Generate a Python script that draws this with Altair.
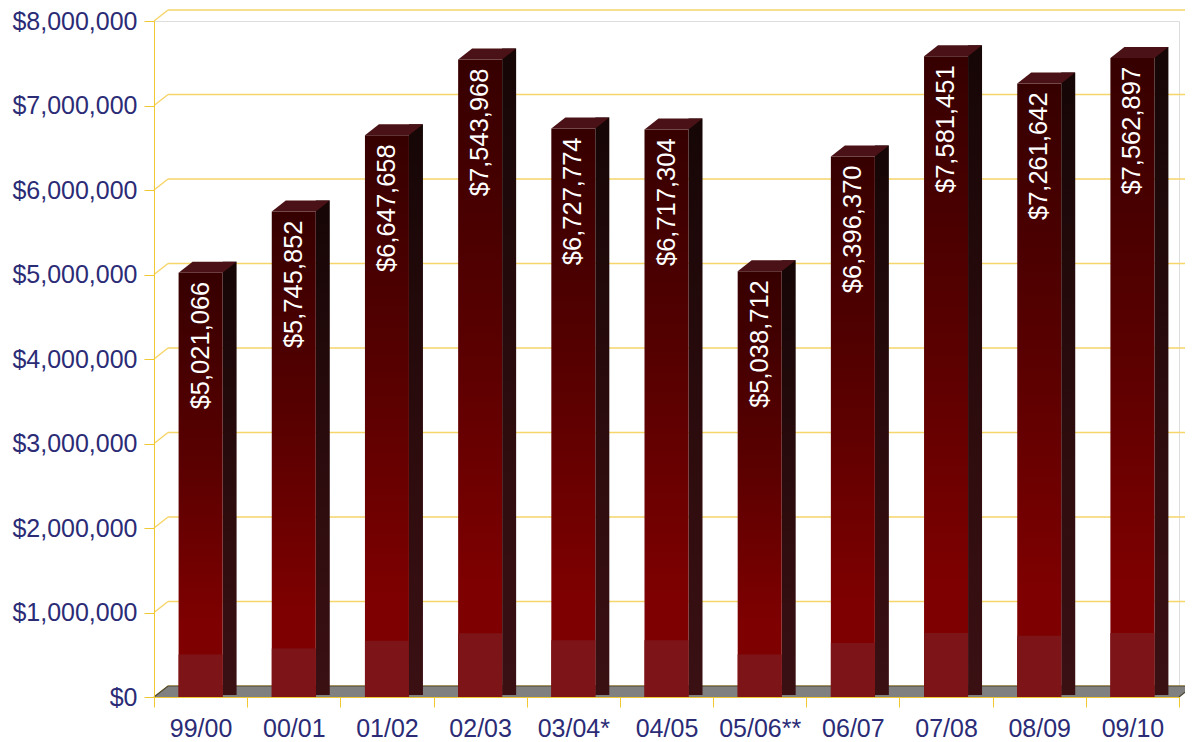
import altair as alt
import pandas as pd

# ---- data ----
categories = ["99/00", "00/01", "01/02", "02/03", "03/04*", "04/05",
              "05/06**", "06/07", "07/08", "08/09", "09/10"]
values = [5021066, 5745852, 6647658, 7543968, 6727774, 6717304,
          5038712, 6396370, 7581451, 7261642, 7562897]
tick_values = [0, 1000000, 2000000, 3000000, 4000000,
               5000000, 6000000, 7000000, 8000000]

df = pd.DataFrame({"season": categories, "amount": values})
grid_df = pd.DataFrame({"tick": tick_values})

# ---- layout constants (pixels) ----
W, H = 1025, 676
DX, DY = 14, 11
BAR_W = 44
HALF = BAR_W / 2

NAVY = "#2b2b76"
GOLD = "#f0c832"
GRID = "#f6d56a"
FONT = "Liberation Sans"

x_enc = alt.X(
    "season:N",
    sort=categories,
    scale=alt.Scale(paddingInner=0, paddingOuter=0),
    axis=alt.Axis(
        title=None, labelAngle=0, tickBand="extent", tickSize=10,
        labelPadding=9, labelFontSize=25, labelFont=FONT, labelColor=NAVY,
        domainColor=GOLD, tickColor=GOLD, zindex=1, grid=False,
    ),
)
y_scale = alt.Scale(domain=[0, 8000000], nice=False, zero=True)
y_enc = alt.Y(
    "amount:Q",
    scale=y_scale,
    axis=alt.Axis(
        title=None, values=tick_values, format="$,.0f", tickSize=10,
        labelPadding=7, labelFontSize=25, labelFont=FONT, labelColor=NAVY,
        domainColor=GOLD, tickColor=GOLD, grid=False, zindex=1,
    ),
)

# back-wall gridlines
grid_back = alt.Chart(grid_df).mark_rule(color=GRID, strokeWidth=1.5, yOffset=-DY).encode(
    y=alt.Y("tick:Q", scale=y_scale),
    x=alt.value(DX), x2=alt.value(W + DX),
)
grid_diag = alt.Chart(grid_df).mark_rule(color=GRID, strokeWidth=1.5, y2Offset=-DY).encode(
    y=alt.Y("tick:Q", scale=y_scale), y2="tick:Q",
    x=alt.value(0), x2=alt.value(DX),
)

# floor parallelogram
k = W / 2
fx, fy = DX / k, DY / k
floor_path = f"M -1 0 L 1 0 L {1 + fx:.5f} {-fy:.5f} L {-1 + fx:.5f} {-fy:.5f} Z"
floor_edge_path = f"M -1 0 L {-1 + fx:.5f} {-fy:.5f} L {1 + fx:.5f} {-fy:.5f} L 1 0"
floor = alt.Chart(grid_df.head(1)).mark_point(
    shape=floor_path, size=W * W, filled=True, fill="#808080", opacity=1, strokeWidth=0
).encode(x=alt.value(W / 2), y=alt.value(H))
floor_edge = alt.Chart(grid_df.head(1)).mark_point(
    shape=floor_edge_path, size=W * W, filled=False, stroke="#4e4630",
    strokeWidth=1.2, opacity=1
).encode(x=alt.value(W / 2), y=alt.value(H))

base = alt.Chart(df).encode(x=x_enc)

# side face
side = base.mark_bar(
    width=DX, xOffset=HALF + DX / 2, yOffset=-DY, y2Offset=-2,
    color=alt.Gradient(
        gradient="linear", x1=0, x2=0, y1=0, y2=1,
        stops=[alt.GradientStop(color="#160606", offset=0),
               alt.GradientStop(color="#2e0c0e", offset=0.6),
               alt.GradientStop(color="#3a1013", offset=1)],
    ),
).encode(y=y_enc, y2=alt.datum(0))

# front face
front = base.mark_bar(
    width=BAR_W,
    color=alt.Gradient(
        gradient="linear", x1=0, x2=0, y1=0, y2=1,
        stops=[alt.GradientStop(color="#360000", offset=0),
               alt.GradientStop(color="#5a0000", offset=0.45),
               alt.GradientStop(color="#7e0000", offset=0.82),
               alt.GradientStop(color="#800000", offset=1)],
    ),
).encode(y=y_enc, y2=alt.datum(0))

# lighter bottom band of the front face
front_low = base.transform_calculate(low="datum.amount * 0.1").mark_bar(
    width=BAR_W, color="#7c1418"
).encode(y=alt.Y("low:Q", scale=y_scale), y2=alt.datum(0))

# top face
tk = HALF
top_path = (f"M -1 0 L {(-HALF + DX) / tk:.5f} {-DY / tk:.5f} "
            f"L {(HALF + DX) / tk:.5f} {-DY / tk:.5f} L 1 0 Z")
top = base.mark_point(
    shape=top_path, size=BAR_W * BAR_W, filled=True, opacity=1,
    strokeWidth=0, color="#4a1216",
).encode(y=y_enc)

labels = base.mark_text(
    angle=270, align="right", baseline="middle", color="white",
    fontSize=25.5, font=FONT, yOffset=9,
).encode(y=y_enc, text=alt.Text("amount:Q", format="$,.0f"))

chart = alt.layer(
    grid_back, grid_diag, floor, floor_edge, side, front, front_low, top, labels
).properties(
    width=W, height=H,
    autosize=alt.AutoSizeParams(type="none"),
    padding={"left": 146, "top": 13, "right": 6, "bottom": 45},
).configure_view(stroke=None).configure(background="white")

chart.save("out.html", embed_options={"renderer": "svg", "actions": False})
